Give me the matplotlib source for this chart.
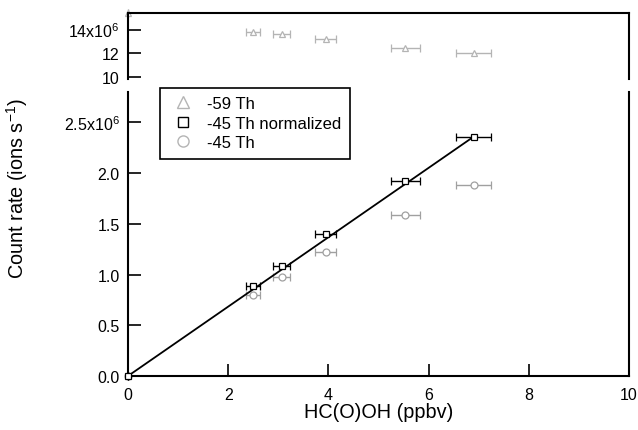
import matplotlib.pyplot as plt
import numpy as np

plt.rcParams['font.family'] = ['Liberation Sans', 'DejaVu Sans']
plt.rcParams['font.size'] = 11
plt.rcParams['mathtext.fontset'] = 'custom'
plt.rcParams['mathtext.rm'] = 'Liberation Sans'

# HC(O)OH mixing ratio (ppbv) and its uncertainty
hcooh = [0.0, 2.5, 3.07, 3.95, 5.53, 6.9]
hcooh_err = [0.0, 0.14, 0.17, 0.21, 0.29, 0.35]

# count rates, in units of 1e6 ions/s
th59 = [15.4, 13.82, 13.64, 13.2, 12.46, 12.02]
th45_norm = [0.0, 0.89, 1.08, 1.395, 1.92, 2.36]
th45 = [0.0, 0.80, 0.975, 1.22, 1.59, 1.88]

# linear fit shown on the plot
fit_x = [0.0, 6.9]
fit_slope = 0.342

grey = '#a0a0a0'
lgrey = '#b4b4b4'

fig = plt.figure(figsize=(6.38, 4.31), dpi=100)
ax_top = fig.add_axes([0.2006, 0.8144, 0.7854, 0.1531])
ax = fig.add_axes([0.2006, 0.1253, 0.7854, 0.659])

mk = dict(markersize=5, markerfacecolor='white', capsize=3, elinewidth=1, capthick=1,
          linestyle='none', markeredgewidth=0.9)

# top panel: -59 Th
ax_top.errorbar(hcooh, th59, xerr=hcooh_err, marker='^', color=lgrey, clip_on=False, **mk)
ax_top.set_xlim(0, 10)
ax_top.set_ylim(9.82, 15.4)
ax_top.set_yticks([10, 12, 14])
ax_top.set_yticklabels(['10', '12', '14x10$^{6}$'])
ax_top.set_xticks([])
ax_top.spines['bottom'].set_visible(False)

# bottom panel
ax.plot(fit_x, [fit_slope * v for v in fit_x], color='black', linewidth=1.3, zorder=3)
ax.errorbar(hcooh, th45, xerr=hcooh_err, marker='o', color=grey, clip_on=False, **mk)
ax.errorbar(hcooh, th45_norm, xerr=hcooh_err, marker='s', color='black', clip_on=False,
            zorder=4, **mk)

# legend handles
ax.plot([], [], marker='^', color=lgrey, markerfacecolor='white', linestyle='none',
        markersize=8, label='-59 Th')
ax.plot([], [], marker='s', color='black', markerfacecolor='white', linestyle='none',
        markersize=7, label='-45 Th normalized')
ax.plot([], [], marker='o', color=lgrey, markerfacecolor='white', linestyle='none',
        markersize=8, label='-45 Th')
h, l = ax.get_legend_handles_labels()
leg = ax.legend(h[-3:], l[-3:], loc='upper left', bbox_to_anchor=(0.064, 1.014),
                fontsize=12, fancybox=False, edgecolor='black', framealpha=1,
                handletextpad=0.54, borderpad=0.5, labelspacing=0.27, handlelength=1.8,
                borderaxespad=0)
leg.get_frame().set_linewidth(1.2)

ax.set_xlim(0, 10)
ax.set_ylim(0, 2.80)
ax.set_xticks([0, 2, 4, 6, 8, 10])
ax.set_yticks([0, 0.5, 1.0, 1.5, 2.0, 2.5])
ax.set_yticklabels(['0.0', '0.5', '1.0', '1.5', '2.0', '2.5x10$^{6}$'])
ax.spines['top'].set_visible(False)
ax.set_xlabel('HC(O)OH (ppbv)', fontsize=14.3, labelpad=0)
ax.set_ylabel('Count rate (ions s$^{-1}$)', fontsize=14.3)
ax.yaxis.set_label_coords(-0.196, 0.663)

for a in (ax, ax_top):
    for s in a.spines.values():
        s.set_linewidth(1.5)
    a.tick_params(direction='in', length=9, width=1.2, labelsize=11.5)
    a.tick_params(axis='y', pad=6)
ax.tick_params(axis='x', pad=8)

fig.savefig('out.png', dpi=100)
